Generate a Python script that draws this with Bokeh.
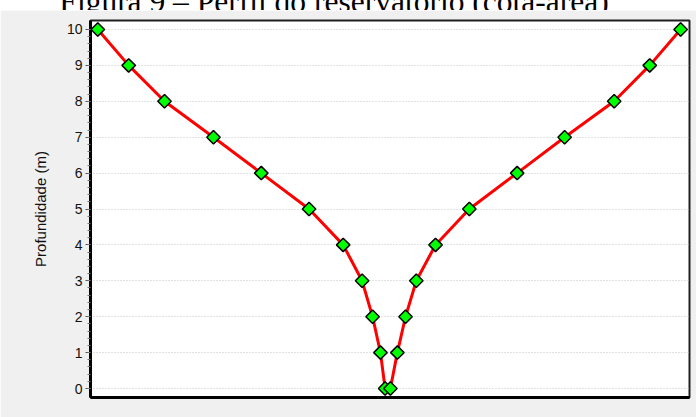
from bokeh.plotting import figure
from bokeh.models import Range1d, FixedTicker, Div
from bokeh.layouts import column
from bokeh.embed import file_html
from bokeh.resources import INLINE
import numpy as np

# Data (depth in m, horizontal position of profile edges)
title_text = "Figura 9 – Perfil do reservatório (cota-área)"
y_label = "Profundidade (m)"
depth = [10, 9, 8, 7, 6, 5, 4, 3, 2, 1, 0]
left_edge = [-100.0, -89.4, -77.1, -60.3, -43.9, -27.5, -15.8, -9.3, -5.7, -3.0, -1.4]
right_edge = [100.0, 89.4, 77.2, 60.2, 43.9, 27.5, 15.9, 9.3, 5.6, 2.8, 0.4]
y_ticks = [0, 1, 2, 3, 4, 5, 6, 7, 8, 9, 10]

xs = left_edge + right_edge[::-1]
ys = depth + depth[::-1]

title = Div(
    text=('<div style="width:682px;margin-top:-18px;padding-right:14px;text-align:center;'
          'font-family:\'Liberation Serif\';font-size:31.5px;line-height:31.5px;'
          'color:#000;white-space:nowrap">' + title_text + '</div>'),
    width=696, height=10, margin=0,
    styles={"overflow": "hidden", "background-color": "white"},
)

p = figure(width=696, height=407, output_backend="svg", toolbar_location=None,
           x_range=Range1d(-102.5, 103.05), y_range=Range1d(-0.25, 10.25),
           min_border_left=90, min_border_right=7, min_border_top=10,
           min_border_bottom=20, margin=0)
p.border_fill_color = "#f0f0f0"
p.background_fill_color = "white"
p.outline_line_color = "#202020"
p.outline_line_width = 2

# y axis
ya = p.yaxis[0]
ya.ticker = FixedTicker(ticks=y_ticks,
                        minor_ticks=list(np.round(np.arange(0, 10.01, 0.2), 2)))
ya.axis_label = y_label
ya.axis_label_text_font = "Liberation Sans"
ya.axis_label_text_font_size = "15px"
ya.axis_label_text_font_style = "normal"
ya.axis_label_text_color = "#111111"
ya.axis_label_standoff = 15
ya.major_label_text_font = "Liberation Sans"
ya.major_label_text_font_size = "14px"
ya.major_label_text_color = "#111111"
ya.major_label_standoff = 3
ya.major_tick_out = 5
ya.major_tick_in = 0
ya.minor_tick_out = 3
ya.minor_tick_in = 0
ya.major_tick_line_color = "#555555"
ya.minor_tick_line_color = "#777777"
ya.axis_line_color = "black"
ya.axis_line_width = 3

xa = p.xaxis[0]
xa.ticker = FixedTicker(ticks=[])
xa.major_tick_line_color = None
xa.minor_tick_line_color = None
xa.axis_line_color = "black"
xa.axis_line_width = 3

p.xgrid.grid_line_color = None
p.ygrid.ticker = FixedTicker(ticks=y_ticks)
p.ygrid.grid_line_color = "#c4c4c4"
p.ygrid.grid_line_dash = "1 2"
p.ygrid.grid_line_width = 1

p.line(xs, ys, line_color="#ff0000", line_width=3)
p.scatter(xs, ys, marker="square", angle=np.pi / 4, size=9.5,
          fill_color="#00ff00", line_color="black", line_width=1.5)

layout = column(title, p, spacing=0, margin=0)
open("out.html", "w").write(file_html(layout, INLINE))
